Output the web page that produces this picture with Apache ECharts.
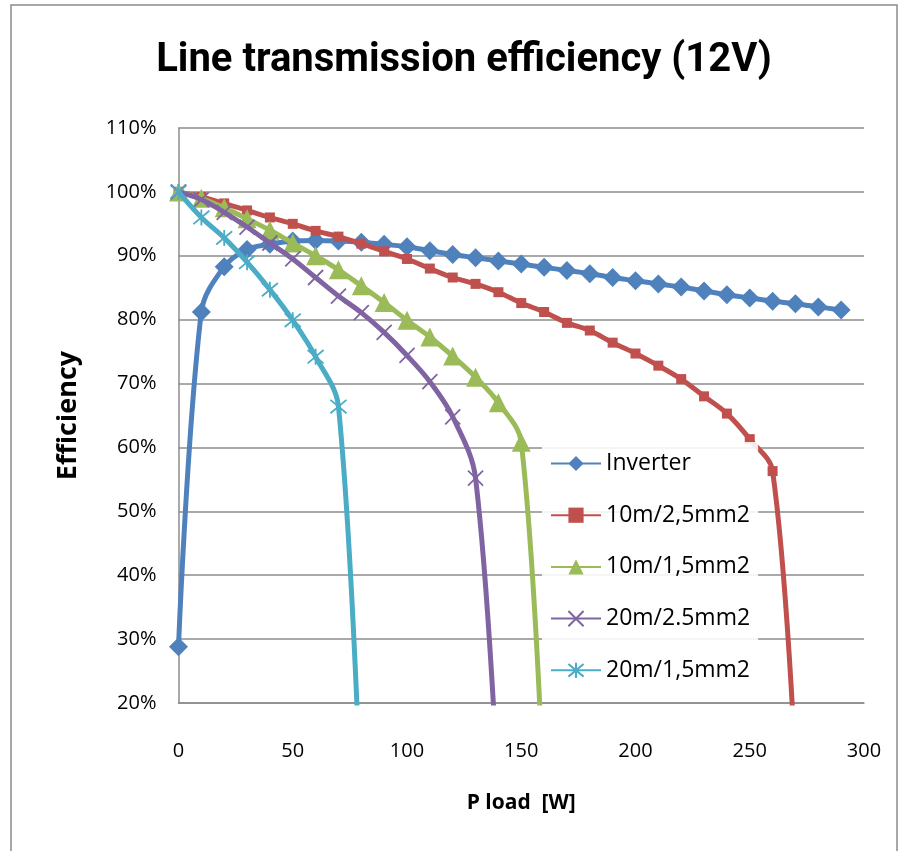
<!DOCTYPE html>
<html>
<head>
<meta charset="utf-8">
<title>Line transmission efficiency (12V)</title>
<script src="https://cdn.jsdelivr.net/npm/echarts@6/dist/echarts.min.js"></script>
<style>
    html, body { margin: 0; padding: 0; background: #fff; }
    #chart { width: 899px; height: 851px; }
</style>
</head>
<body>
<div id="chart"></div>
<script>
// load in W (x) and efficiency in % (y)
var loadW = [0, 10, 20, 30, 40, 50, 60, 70, 80, 90, 100, 110, 120, 130, 140,
    150, 160, 170, 180, 190, 200, 210, 220, 230, 240, 250, 260, 270, 280, 290];

var inverter = [28.8, 81.2, 88.3, 91.0, 91.8, 92.3, 92.4, 92.3, 92.1, 91.8, 91.4,
    90.8, 90.2, 89.7, 89.2, 88.7, 88.2, 87.7, 87.2, 86.6, 86.1, 85.6, 85.1, 84.5,
    83.9, 83.4, 82.9, 82.5, 82.0, 81.5];
var line10m25 = [100, 99.2, 98.2, 97.1, 96.0, 95.0, 93.9, 93.0, 91.9, 90.7, 89.5,
    88.0, 86.6, 85.6, 84.3, 82.6, 81.2, 79.5, 78.3, 76.4, 74.7, 72.8, 70.7, 68.0,
    65.3, 61.3, 56.3, 10];
var line10m15 = [100, 99.0, 97.5, 95.8, 94.0, 92.0, 90.0, 87.8, 85.3, 82.7, 79.9,
    77.3, 74.3, 71.0, 67.0, 60.8, 4];
var line20m25 = [100, 98.8, 96.8, 94.5, 92.0, 89.5, 86.6, 83.7, 81.1, 78.0, 74.4,
    70.3, 64.8, 55.2, 5];
var line20m15 = [100, 96.0, 92.8, 89.0, 84.7, 79.9, 74.2, 66.4, 2];

var names = ['Inverter', '10m/2,5mm2', '10m/1,5mm2', '20m/2.5mm2', '20m/1,5mm2'];
var colors = ['#4F81BD', '#C0504D', '#9BBB59', '#8064A2', '#4BACC6'];

var xTicks = [0, 300, 50];
var yTicks = [20, 110, 10];

var FONT = 'Open Sans';
var GRID = '#8c8c8c';

function pairs(vals) {
    return vals.map(function(v, i) { return [loadW[i], v]; });
}

function lineSeries(idx, vals, symbol, size, stroked) {
    var s = {
        name: names[idx],
        type: 'line',
        data: pairs(vals),
        smooth: 0.35,
        symbol: symbol,
        symbolSize: size,
        showAllSymbol: true,
        lineStyle: { color: colors[idx], width: 5 },
        itemStyle: { color: colors[idx] },
        emphasis: { disabled: true },
        z: 2 + idx
    };
    if (stroked) {
        s.itemStyle.borderColor = colors[idx];
        s.itemStyle.borderWidth = 1.8;
    }
    return s;
}

var chart = echarts.init(document.getElementById('chart'));

var option = {
    backgroundColor: '#fff',
    animation: false,
    title: {
        text: 'Line transmission efficiency (12V)',
        left: 459,
        textAlign: 'center',
        top: 36,
        textStyle: {
            fontFamily: 'Roboto',
            fontWeight: 'bold',
            fontSize: 40,
            color: '#000'
        }
    },
    graphic: [{
        type: 'rect',
        shape: { x: 11, y: 5, width: 886, height: 860 },
        style: { fill: 'none', stroke: '#8c8c8c', lineWidth: 1.5 },
        silent: true
    }],
    grid: { left: 178.5, right: 35, top: 128, bottom: 148 },
    legend: {
        orient: 'vertical',
        left: 542,
        top: 442,
        padding: [10, 8, 10, 8],
        itemWidth: 50,
        itemHeight: 19,
        itemGap: 28.7,
        backgroundColor: 'rgba(255,255,255,0.88)',
        textStyle: { fontFamily: FONT, fontSize: 23, color: '#000' },
        data: names
    },
    xAxis: {
        type: 'value',
        min: xTicks[0],
        max: xTicks[1],
        interval: xTicks[2],
        name: 'P load  [W]',
        nameLocation: 'middle',
        nameGap: 90,
        nameTextStyle: { fontFamily: FONT, fontWeight: 'bold', fontSize: 21, color: '#000' },
        axisLine: { show: true, lineStyle: { color: GRID, width: 1.5 } },
        axisTick: { show: false },
        splitLine: { show: false },
        axisLabel: { margin: 38, fontFamily: FONT, fontSize: 20, color: '#000' }
    },
    yAxis: {
        type: 'value',
        min: yTicks[0],
        max: yTicks[1],
        interval: yTicks[2],
        name: 'Efficiency',
        nameLocation: 'middle',
        nameGap: 97,
        nameTextStyle: { fontFamily: FONT, fontWeight: 'bold', fontSize: 27, color: '#000' },
        axisLine: { show: true, lineStyle: { color: GRID, width: 1.5 } },
        axisTick: { show: false },
        splitLine: { show: true, lineStyle: { color: GRID, width: 1.5 } },
        axisLabel: {
            margin: 22,
            fontFamily: FONT,
            fontSize: 20,
            color: '#000',
            formatter: '{value}%'
        }
    },
    series: [
        lineSeries(0, inverter, 'diamond', 19, false),
        lineSeries(1, line10m25, 'rect', 10, false),
        lineSeries(2, line10m15, 'triangle', 19, false),
        lineSeries(3, line20m25, 'path://M0,0L10,10M10,0L0,10', 15, true),
        lineSeries(4, line20m15, 'path://M0,0L10,10M10,0L0,10M5,-1L5,11', 16, true)
    ]
};

chart.setOption(option);
</script>
</body>
</html>
